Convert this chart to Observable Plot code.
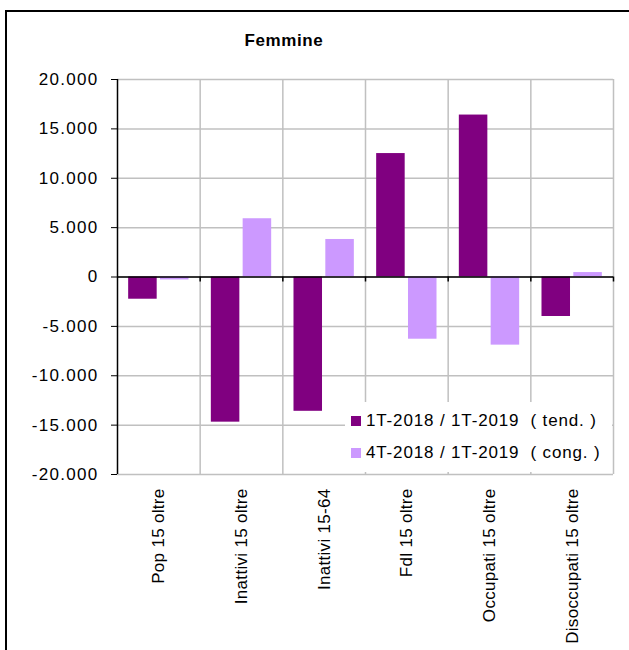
<!DOCTYPE html>
<html>
<head>
<meta charset="utf-8">
<script src="https://cdn.jsdelivr.net/npm/d3@7"></script>
<script src="https://cdn.jsdelivr.net/npm/@observablehq/plot@0.6"></script>
<style>
  body { margin: 0; background: #fff; font-family: "Liberation Sans", Arial, sans-serif; }
  #wrap { position: relative; width: 629px; height: 650px; overflow: hidden; background: #fff; }
  #chart { position: absolute; left: 0; top: 0; }
  #chart svg text { font-size: 17px; font-family: "Liberation Sans", Arial, sans-serif; fill: #000; }
  #chart svg text.num { font-size: 17px; letter-spacing: 1.3px; font-variant-numeric: normal; }
  #chart svg text.cat { letter-spacing: 0.3px; }
  #frame { position: absolute; left: 5px; top: 10px; width: 700px; height: 700px;
           border-left: 2px solid #000; border-top: 2px solid #000; pointer-events: none; }
  #title { position: absolute; left: 0; width: 568px; top: 31px; line-height: 20px;
           text-align: center; font-weight: bold; font-size: 17px; letter-spacing: 0.6px; color: #000; }
  #legend { position: absolute; left: 345px; top: 402px; width: 267px; height: 70px; background: #fff; }
  .item { position: absolute; left: 0; height: 20px; }
  .sw { position: absolute; left: 6px; width: 10px; height: 10px; }
  .lt { position: absolute; left: 21px; top: 0; white-space: pre; font-size: 17px; line-height: 20px;
        letter-spacing: 0.85px; color: #000; }
</style>
</head>
<body>
<div id="wrap">
  <div id="chart"></div>
  <div id="title"></div>
  <div id="legend"></div>
  <div id="frame"></div>
</div>
<script>
// ---- data ----
const title = "Femmine";
const categories = ["Pop 15 oltre", "Inattivi 15 oltre", "Inattivi 15-64", "Fdl 15 oltre", "Occupati 15 oltre", "Disoccupati 15 oltre"];
const seriesNames = ["1T-2018 / 1T-2019  ( tend. )", "4T-2018 / 1T-2019  ( cong. )"];
const tendenziale = [-2250, -14700, -13600, 12500, 16400, -4000];
const congiunturale = [-300, 5900, 3800, -6300, -6900, 450];
const yTicks = [-20000, -15000, -10000, -5000, 0, 5000, 10000, 15000, 20000];
const colors = ["#800080", "#CC99FF"];

// ---- layout constants (within each category slot, as fraction of slot) ----
const barW = 0.345, gap = 0.04;

const rows = [];
categories.forEach((c, i) => {
  rows.push({cat: c, idx: i, series: seriesNames[0], s: 0, value: tendenziale[i]});
  rows.push({cat: c, idx: i, series: seriesNames[1], s: 1, value: congiunturale[i]});
});
const x1 = d => d.s === 0 ? d.idx + 0.5 - gap / 2 - barW : d.idx + 0.5 + gap / 2;
const x2 = d => d.s === 0 ? d.idx + 0.5 - gap / 2 : d.idx + 0.5 + gap / 2 + barW;

const itFmt = d3.formatLocale({decimal: ",", thousands: ".", grouping: [3], currency: ["€", ""], minus: "-"}).format(",.0f");

const boundaries = d3.range(1, categories.length + 1);

const chart = Plot.plot({
  width: 629,
  height: 650,
  marginLeft: 117,
  marginRight: 16,
  marginTop: 79,
  marginBottom: 176,
  style: {fontFamily: "'Liberation Sans', Arial, sans-serif", fontSize: "17px", background: "transparent", color: "#000"},
  x: {
    domain: [0, categories.length],
    ticks: categories.map((c, i) => i + 0.5),
    tickFormat: d => categories[Math.floor(d)],
    tickRotate: -90,
    tickSize: 0,
    tickPadding: 14,
    label: null
  },
  y: {
    domain: [-20000, 20000],
    ticks: yTicks,
    tickFormat: itFmt,
    tickSize: 6,
    tickPadding: 13,
    label: null
  },
  color: {domain: seriesNames, range: colors},
  marks: [
    Plot.ruleY(yTicks, {stroke: "#c0c0c0", strokeWidth: 1.5}),
    Plot.ruleX(boundaries, {stroke: "#c0c0c0", strokeWidth: 1.5}),
    Plot.rect(rows, {x1, x2, y1: 0, y2: "value", fill: "series"}),
    Plot.ruleY([0], {stroke: "#000", strokeWidth: 1.5}),
    Plot.ruleX(boundaries, {y1: 0, y2: 0, insetBottom: -5, stroke: "#000", strokeWidth: 1.5}),
    Plot.ruleX([0], {stroke: "#000", strokeWidth: 1.5})
  ]
});
document.getElementById("chart").appendChild(chart);

// classify tick labels: category names vs numeric values
d3.select(chart).selectAll("text").each(function () {
  const t = this.textContent;
  this.classList.add(categories.includes(t) ? "cat" : "num");
});

document.getElementById("title").textContent = title;

const legend = document.getElementById("legend");
seriesNames.forEach((name, i) => {
  const item = document.createElement("div");
  item.className = "item";
  item.style.top = (9 + i * 32) + "px";
  const sw = document.createElement("div");
  sw.className = "sw";
  sw.style.top = "5px";
  sw.style.background = colors[i];
  const lt = document.createElement("div");
  lt.className = "lt";
  lt.textContent = name;
  item.appendChild(sw);
  item.appendChild(lt);
  legend.appendChild(item);
});
</script>
</body>
</html>
